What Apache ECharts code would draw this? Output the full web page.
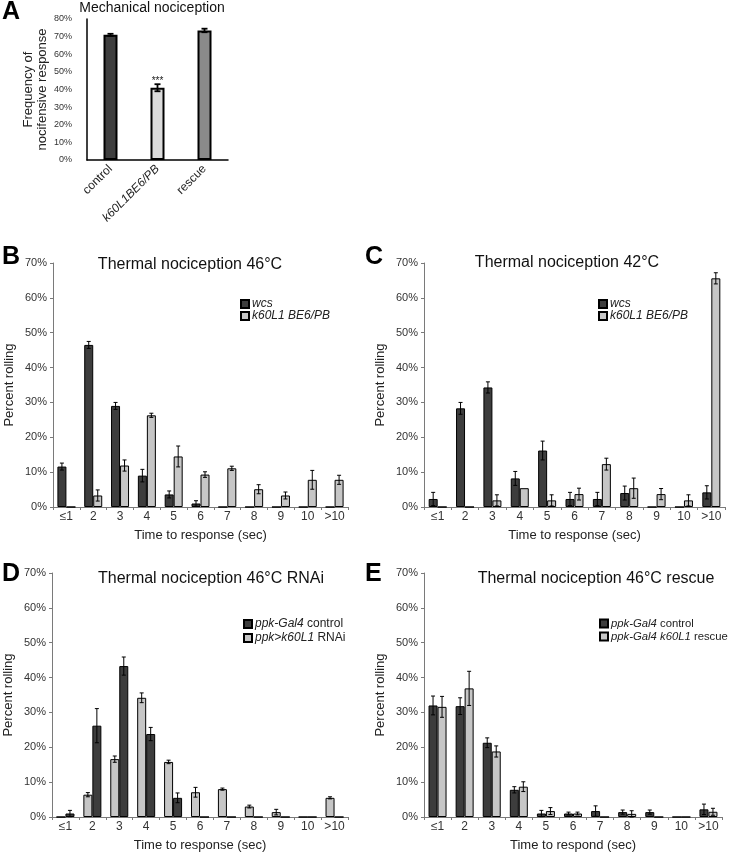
<!DOCTYPE html>
<html><head><meta charset="utf-8">
<script src="https://cdn.jsdelivr.net/npm/echarts/dist/echarts.min.js"></script>
<style>html,body{margin:0;padding:0;background:#fff}#c{width:730px;height:853px}</style>
</head><body><div id="c"></div>
<script>
// ---------- DATA ----------
const timeCats = ['≤1','2','3','4','5','6','7','8','9','10','>10'];

const aCats = ['control','k60L1BE6/PB','rescue'];
const aValues = [71, 41, 73.5];
const aErr = [0.6, 2, 1];
const aSig = ['', '***', ''];

const bWcs = [11.6,46.5,29.0,9.0,3.6,1.0,0,0,0,0,0];
const bWcsErr = [1,1,1,1.8,1,0.8,0,0,0,0,0];
const bK60 = [0,3.3,11.9,26.3,14.5,9.3,11.1,5.1,3.3,7.8,7.8];
const bK60Err = [0,1.6,1.6,0.6,3.0,0.8,0.6,1.3,1,2.7,1.3];

const cWcs = [2.3,28.3,34.3,8.2,16.2,2.3,2.3,4.0,0,0,4.2];
const cWcsErr = [1.9,1.7,1.6,2,2.7,1.9,1.9,2,0,0,1.9];
const cK60 = [0,0,1.9,5.4,1.9,3.7,12.3,5.4,3.7,1.9,65.6];
const cK60Err = [0,0,1.6,0,1.6,1.7,1.7,2.9,1.6,1.6,1.6];

const dRnai = [0,6.4,16.6,34.2,15.8,7.1,8.0,3.0,1.4,0,5.5];
const dRnaiErr = [0,0.6,0.9,1.4,0.5,1.4,0.3,0.4,0.8,0,0.3];
const dCtrl = [1.0,26.2,43.3,23.8,5.5,0,0,0,0,0,0];
const dCtrlErr = [0.9,4.9,2.6,1.9,1.4,0,0,0,0,0,0];

const eCtrl = [32.0,31.8,21.3,7.8,1.0,1.0,1.7,1.4,1.4,0,2.2];
const eCtrlErr = [2.7,2.4,1.4,0.9,0.9,0.4,1.5,0.6,0.6,0,1.5];
const eRescue = [31.6,36.9,18.8,8.7,1.7,1.0,0,0.9,0,0,1.5];
const eRescueErr = [3,4.9,1.6,1.4,1,0.4,0,0.9,0,0,1];

const titles = ['Mechanical nociception','Thermal nociception 46°C','Thermal nociception 42°C',
  'Thermal nociception 46°C RNAi','Thermal nociception 46°C rescue'];
const panelLetters = ['A','B','C','D','E'];
const legendLabels = {
  B_wcs: '{i|wcs}', B_k60: '{i|k60L1 BE6/PB}',
  C_wcs: '{i|wcs}', C_k60: '{i|k60L1 BE6/PB}',
  D_ctrl: '{i|ppk-Gal4}{n| control}', D_rnai: '{i|ppk>k60L1}{n| RNAi}',
  E_ctrl: '{i|ppk-Gal4}{n| control}', E_rescue: '{i|ppk-Gal4 k60L1}{n| rescue}'
};
const xNames = ['', 'Time to response (sec)', 'Time to response (sec)', 'Time to response (sec)', 'Time to respond (sec)'];
const yNames = ['Frequency of\nnocifensive response', 'Percent rolling', 'Percent rolling', 'Percent rolling', 'Percent rolling'];

// ---------- STYLE ----------
const FONT = 'Liberation Sans, Arial, Helvetica, sans-serif';
const DARK = '#3d3d3d', LIGHT = '#c6c6c6';
const axisGray = '#7a7a7a';

function errSeries(g, vals, errs, offset, capW, lw) {
  return {
    type: 'custom', xAxisIndex: g, yAxisIndex: g, z: 10, silent: true,
    encode: {x: 0, y: 1},
    data: vals.map((v, i) => [i, v, errs[i]]),
    renderItem: (params, api) => {
      const i = api.value(0), v = api.value(1), e = api.value(2);
      if (!e) return null;
      const t = api.coord([i, v + e]), b = api.coord([i, v - e]);
      const x = t[0] + offset;
      const st = {stroke: '#000', lineWidth: lw};
      return {type: 'group', children: [
        {type: 'line', shape: {x1: x, y1: t[1], x2: x, y2: b[1]}, style: st},
        {type: 'line', shape: {x1: x - capW / 2, y1: t[1], x2: x + capW / 2, y2: t[1]}, style: st},
        {type: 'line', shape: {x1: x - capW / 2, y1: b[1], x2: x + capW / 2, y2: b[1]}, style: st}
      ]};
    }
  };
}
function barSeries(name, g, vals, color) {
  return {
    name: name, type: 'bar', xAxisIndex: g, yAxisIndex: g, data: vals,
    barWidth: 9, barGap: '0%',
    itemStyle: {color: color, borderColor: '#000', borderWidth: 1},
    emphasis: {disabled: true}
  };
}

const grids = [
  {left: 87, top: 19, width: 141, height: 141},
  {left: 53, top: 263, width: 295, height: 244},
  {left: 424, top: 263, width: 301, height: 244},
  {left: 52, top: 573, width: 296, height: 246},
  {left: 424, top: 573, width: 298, height: 246}
];

const xAxes = [], yAxes = [];
for (let g = 0; g < 5; g++) {
  if (g === 0) {
    xAxes.push({
      type: 'category', gridIndex: 0, data: aCats,
      axisLine: {lineStyle: {color: '#000', width: 1.5}},
      axisTick: {show: false},
      axisLabel: {rotate: 45, margin: 7, fontSize: 12, color: '#222', fontFamily: FONT,
        formatter: (v) => v === 'k60L1BE6/PB' ? '{i|' + v + '}' : v,
        rich: {i: {fontStyle: 'italic', fontSize: 12, color: '#222', fontFamily: FONT}}}
    });
    yAxes.push({
      type: 'value', gridIndex: 0, min: 0, max: 80, interval: 10,
      name: yNames[0], nameLocation: 'middle', nameGap: 38, nameRotate: 90,
      nameTextStyle: {fontSize: 13, color: '#222', fontFamily: FONT, lineHeight: 14},
      axisLine: {show: true, lineStyle: {color: '#000', width: 1.5}},
      axisTick: {show: false},
      splitLine: {show: false},
      axisLabel: {formatter: '{value}%', fontSize: 9, color: '#333', margin: 15, fontFamily: FONT}
    });
  } else {
    xAxes.push({
      type: 'category', gridIndex: g, data: timeCats,
      name: xNames[g], nameLocation: 'middle', nameGap: 22,
      nameTextStyle: {fontSize: 13, color: '#222', fontFamily: FONT},
      axisLine: {lineStyle: {color: axisGray, width: 1}},
      axisTick: {show: true, length: 3, lineStyle: {color: axisGray}},
      axisLabel: {fontSize: 12, color: '#333', margin: 4, interval: 0, fontFamily: FONT}
    });
    yAxes.push({
      type: 'value', gridIndex: g, min: 0, max: 70, interval: 10,
      name: yNames[g], nameLocation: 'middle', nameGap: 37, nameRotate: 90,
      nameTextStyle: {fontSize: 13, color: '#222', fontFamily: FONT},
      axisLine: {show: true, lineStyle: {color: axisGray, width: 1}},
      axisTick: {show: true, length: 3, lineStyle: {color: axisGray}},
      splitLine: {show: false},
      axisLabel: {formatter: '{value}%', fontSize: 11, color: '#333', margin: 6, fontFamily: FONT}
    });
  }
}

const series = [
  {
    type: 'bar', xAxisIndex: 0, yAxisIndex: 0, barWidth: 14,
    data: aValues.map((v, i) => ({value: v, itemStyle: {color: ['#3f3f3f', '#dcdcdc', '#8a8a8a'][i]}})),
    itemStyle: {borderColor: '#000', borderWidth: 2},
    label: {show: true, position: 'top', distance: 1, fontSize: 10, color: '#222', fontFamily: FONT,
      formatter: (p) => aSig[p.dataIndex]},
    emphasis: {disabled: true}
  },
  errSeries(0, aValues, aErr, 0, 6, 1.8),

  barSeries('B_wcs', 1, bWcs, DARK),
  barSeries('B_k60', 1, bK60, LIGHT),
  errSeries(1, bWcs, bWcsErr, -4.5, 4, 1),
  errSeries(1, bK60, bK60Err, 4.5, 4, 1),

  barSeries('C_wcs', 2, cWcs, DARK),
  barSeries('C_k60', 2, cK60, LIGHT),
  errSeries(2, cWcs, cWcsErr, -4.5, 4, 1),
  errSeries(2, cK60, cK60Err, 4.5, 4, 1),

  barSeries('D_rnai', 3, dRnai, LIGHT),
  barSeries('D_ctrl', 3, dCtrl, DARK),
  errSeries(3, dRnai, dRnaiErr, -4.5, 4, 1),
  errSeries(3, dCtrl, dCtrlErr, 4.5, 4, 1),

  barSeries('E_ctrl', 4, eCtrl, DARK),
  barSeries('E_rescue', 4, eRescue, LIGHT),
  errSeries(4, eCtrl, eCtrlErr, -4.5, 4, 1),
  errSeries(4, eRescue, eRescueErr, 4.5, 4, 1)
];

function legend(data, left, top, gap, fs) {
  return {
    data: data, orient: 'vertical', left: left, top: top, itemWidth: 8, itemHeight: 8, itemGap: gap,
    icon: 'rect', selectedMode: false, padding: 0,
    formatter: (n) => legendLabels[n],
    textStyle: {fontSize: fs, color: '#222', fontFamily: FONT, padding: [0, 0, 0, -2],
      rich: {i: {fontStyle: 'italic', fontSize: fs, color: '#222', fontFamily: FONT},
             n: {fontSize: fs, color: '#222', fontFamily: FONT}}}
  };
}

const titlePos = [[152, 8], [190, 265], [567, 263], [211, 579], [596, 579]];
const titleSize = [14, 16, 16, 16, 16];
const letterPos = [[2, 0], [2, 245], [365, 245], [2, 562], [365, 562]];

const graphic = [];
titles.forEach((t, i) => graphic.push({
  type: 'text', x: titlePos[i][0], y: titlePos[i][1],
  style: {text: t, fontSize: titleSize[i], fill: '#111', fontFamily: FONT, align: 'center', verticalAlign: 'middle'}
}));
panelLetters.forEach((t, i) => graphic.push({
  type: 'text', x: letterPos[i][0], y: letterPos[i][1],
  style: {text: t, fontSize: 25, fontWeight: 'bold', fill: '#000', fontFamily: FONT, align: 'left', verticalAlign: 'top'}
}));

const chart = echarts.init(document.getElementById('c'), null, {renderer: 'canvas'});
chart.setOption({
  animation: false,
  backgroundColor: '#fff',
  grid: grids,
  xAxis: xAxes,
  yAxis: yAxes,
  legend: [
    legend(['B_wcs', 'B_k60'], 240, 298, 0, 12),
    legend(['C_wcs', 'C_k60'], 598, 298, 0, 12),
    legend(['D_ctrl', 'D_rnai'], 243, 618, 2, 12),
    legend(['E_ctrl', 'E_rescue'], 599, 618, 2, 11.3)
  ],
  graphic: graphic,
  series: series
});
</script>
</body></html>
